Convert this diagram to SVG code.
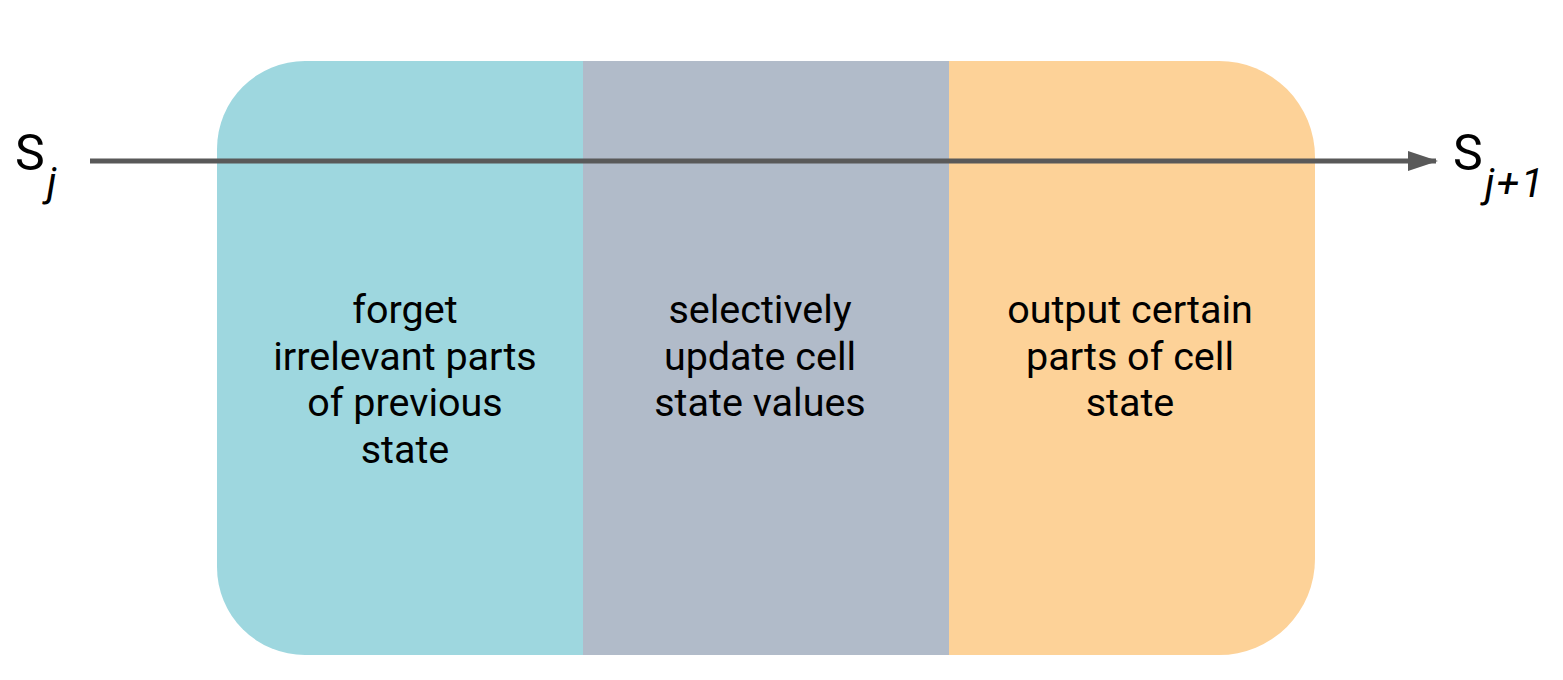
<svg xmlns="http://www.w3.org/2000/svg" width="1563" height="680" viewBox="0 0 1563 680">
  <style>
    .lbl { font-family: Roboto, "Liberation Sans", sans-serif; font-size: 39.5px; fill: #000; text-anchor: middle; }
    .sym { font-family: Roboto, "Liberation Sans", sans-serif; font-size: 50px; fill: #000; }
    .sub { font-style: italic; font-size: 41px; }
  </style>
  <defs>
    <marker id="arrow" markerWidth="6" markerHeight="4" refX="5.6" refY="2" orient="auto" markerUnits="strokeWidth">
      <path d="M0,0 L6,2 L0,4 Z" fill="#595959"/>
    </marker>
  </defs>

  <!-- forget stage (rounded on the left) -->
  <g id="forget">
    <path d="M583,61 L305,61 A88,88 0 0 0 217,149 L217,567 A88,88 0 0 0 305,655 L583,655 Z" fill="#9ed7df"/>
    <text class="lbl" x="405" y="323">forget</text>
    <text class="lbl" x="405" y="370">irrelevant parts</text>
    <text class="lbl" x="405" y="416">of previous</text>
    <text class="lbl" x="405" y="463">state</text>
  </g>

  <!-- update stage -->
  <g id="update">
    <rect x="583" y="61" width="366" height="594" fill="#b1bbc9"/>
    <text class="lbl" x="760" y="323">selectively</text>
    <text class="lbl" x="760" y="370">update cell</text>
    <text class="lbl" x="760" y="416">state values</text>
  </g>

  <!-- output stage (rounded on the right) -->
  <g id="output">
    <path d="M949,61 L1219,61 A96,96 0 0 1 1315,157 L1315,559 A96,96 0 0 1 1219,655 L949,655 Z" fill="#fdd298"/>
    <text class="lbl" x="1130" y="323">output certain</text>
    <text class="lbl" x="1130" y="370">parts of cell</text>
    <text class="lbl" x="1130" y="416">state</text>
  </g>

  <!-- state flow -->
  <g id="connectors">
    <line x1="90" y1="161" x2="1436" y2="161" stroke="#595959" stroke-width="5" marker-end="url(#arrow)"/>
  </g>

  <g id="s-in">
    <text class="sym" x="15" y="170">S</text>
    <text class="sym sub" x="47" y="196">j</text>
  </g>
  <g id="s-out">
    <text class="sym" x="1453" y="170">S</text>
    <text class="sym sub" x="1485" y="197" letter-spacing="2">j+1</text>
  </g>
</svg>
